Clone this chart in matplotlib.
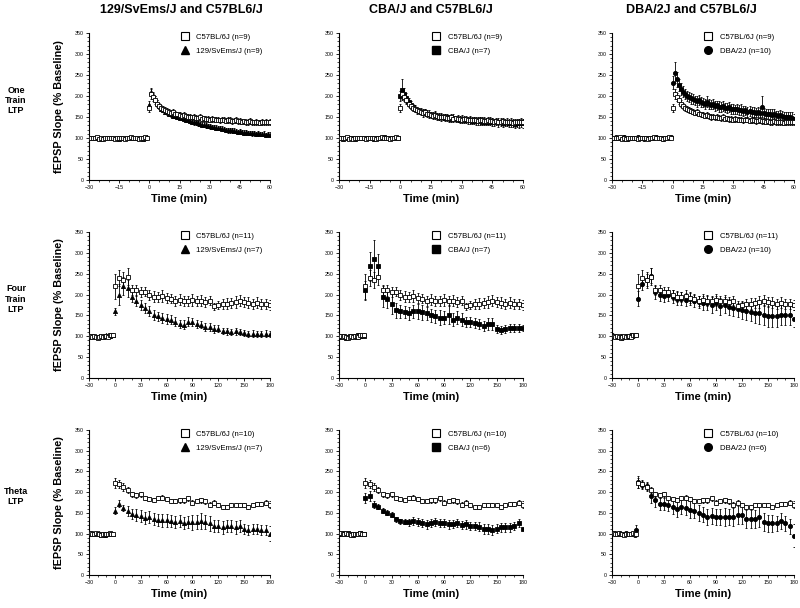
"""Strain comparison of LTP time courses (one train, four train, theta) against C57BL/6J."""
import matplotlib
matplotlib.use("Agg")
import matplotlib.pyplot as plt
import numpy as np
from matplotlib.lines import Line2D
from matplotlib.ticker import MultipleLocator

plt.rcParams["font.family"] = ["Liberation Sans", "DejaVu Sans"]

# ---- time grids -------------------------------------------------------------
t_r1_base = np.arange(-30, 0, 1)          # 60-min experiments: 1-min bins
t_r1_post = np.arange(0, 61, 1)
t_r23_base = np.arange(-30, 0, 2)         # 180-min experiments
t_r23_post = np.arange(0, 181, 5)

# ---- row 1: one train LTP ---------------------------------------------------
c57_r1_base = [100, 101, 99, 100, 102, 98, 100, 97, 99, 101, 100, 99, 101, 98, 100,
               99, 101, 100, 98, 100, 99, 102, 101, 100, 99, 98, 101, 100, 102, 101]
c57_r1_base_err = [3, 2, 3, 3, 2, 3, 3, 2, 3, 3, 2, 3, 3, 3, 2,
                   3, 3, 2, 3, 3, 2, 3, 3, 3, 2, 3, 3, 2, 3, 3]
c57_r1_post = [172, 205, 198, 190, 182, 176, 172, 170, 167, 165,
               163, 160, 162, 158, 157, 155, 153, 155, 152, 150,
               151, 149, 150, 148, 147, 149, 146, 147, 145, 146,
               144, 146, 145, 143, 144, 142, 144, 143, 141, 142,
               143, 140, 141, 142, 140, 141, 139, 140, 138, 139,
               140, 138, 137, 139, 138, 136, 138, 137, 139, 138, 138]
c57_r1_post_err = [10, 12, 10, 9, 8, 8, 7, 7, 7, 6,
                   6, 6, 7, 6, 6, 6, 6, 7, 6, 6,
                   6, 6, 7, 6, 6, 7, 6, 6, 6, 7,
                   6, 7, 6, 6, 7, 6, 7, 6, 6, 7,
                   7, 6, 6, 7, 6, 7, 6, 6, 6, 7,
                   7, 6, 6, 7, 6, 6, 7, 6, 7, 6, 7]

sv_r1_base = [101, 100, 99, 101, 100, 99, 98, 100, 101, 100, 99, 100, 101, 99, 100,
              98, 100, 101, 100, 99, 101, 100, 99, 100, 101, 100, 99, 98, 100, 102]
sv_r1_base_err = [2, 3, 3, 2, 3, 3, 2, 3, 3, 2, 3, 3, 2, 3, 3,
                  3, 2, 3, 3, 2, 3, 3, 2, 3, 3, 2, 3, 3, 2, 3]
sv_r1_post = [178, 210, 202, 192, 183, 176, 170, 167, 163, 161,
              158, 156, 153, 152, 150, 148, 147, 145, 143, 142,
              140, 139, 137, 137, 135, 134, 132, 132, 130, 129,
              128, 127, 127, 125, 124, 123, 122, 122, 120, 119,
              118, 118, 117, 116, 115, 116, 114, 113, 114, 112,
              112, 111, 112, 110, 111, 110, 109, 110, 108, 109, 108]
sv_r1_post_err = [10, 8, 8, 7, 7, 6, 6, 6, 6, 6,
                  6, 5, 6, 5, 5, 6, 5, 5, 6, 5,
                  5, 6, 5, 5, 6, 5, 5, 6, 5, 5,
                  6, 5, 5, 6, 5, 5, 6, 5, 5, 6,
                  5, 5, 6, 5, 5, 6, 5, 5, 6, 5,
                  5, 6, 5, 5, 6, 5, 5, 6, 5, 5, 6]

cba_r1_base = [99, 100, 98, 101, 100, 99, 100, 101, 98, 100, 101, 99, 100, 100, 99,
               101, 100, 98, 100, 101, 99, 100, 102, 100, 99, 101, 100, 99, 101, 100]
cba_r1_base_err = [3, 3, 2, 3, 3, 2, 3, 3, 3, 2, 3, 3, 2, 3, 3,
                   2, 3, 3, 3, 2, 3, 3, 2, 3, 3, 2, 3, 3, 3, 2]
cba_r1_post = [200, 215, 205, 195, 186, 178, 173, 170, 166, 164,
               163, 160, 161, 158, 157, 155, 154, 155, 152, 151,
               150, 150, 148, 149, 147, 146, 147, 145, 146, 144,
               145, 143, 144, 142, 143, 141, 142, 140, 141, 140,
               139, 141, 139, 138, 140, 138, 137, 139, 137, 138,
               136, 137, 138, 135, 137, 136, 134, 136, 135, 137, 135]
cba_r1_post_err = [12, 25, 14, 12, 10, 10, 9, 9, 8, 8,
                   8, 9, 8, 8, 9, 8, 8, 9, 8, 8,
                   9, 8, 8, 9, 8, 8, 9, 8, 9, 8,
                   9, 8, 9, 8, 9, 8, 9, 8, 9, 9,
                   8, 9, 9, 8, 9, 9, 8, 9, 10, 9,
                   10, 9, 10, 9, 10, 10, 9, 10, 10, 11, 10]

dba_r1_base = [101, 100, 102, 99, 100, 101, 103, 98, 97, 100, 101, 99, 100, 102, 99,
               100, 98, 100, 101, 99, 100, 100, 103, 101, 99, 98, 100, 99, 101, 102]
dba_r1_base_err = [3, 2, 3, 3, 3, 2, 3, 3, 2, 3, 3, 3, 2, 3, 3,
                   2, 3, 3, 3, 2, 3, 3, 3, 2, 3, 3, 2, 3, 3, 3]
dba_r1_post = [232, 255, 240, 226, 216, 210, 205, 201, 198, 195,
               192, 190, 188, 190, 185, 184, 182, 186, 181, 179,
               180, 177, 178, 175, 174, 176, 172, 171, 173, 169,
               170, 168, 169, 166, 167, 165, 166, 163, 164, 162,
               163, 160, 161, 159, 175, 160, 158, 157, 158, 155,
               156, 154, 153, 155, 152, 151, 150, 149, 151, 148, 146]
dba_r1_post_err = [15, 25, 18, 15, 14, 13, 12, 12, 12, 13,
                   12, 11, 13, 12, 12, 11, 12, 13, 12, 11,
                   12, 12, 11, 13, 12, 12, 11, 12, 12, 13,
                   12, 11, 12, 12, 13, 12, 11, 12, 12, 13,
                   12, 11, 12, 12, 25, 12, 11, 12, 12, 13,
                   12, 11, 12, 12, 13, 12, 11, 12, 12, 13, 12]

# ---- row 2: four train LTP --------------------------------------------------
c57_r2_base = [100, 101, 99, 100, 98, 97, 99, 100, 98, 101, 100, 99, 102, 104, 103]
c57_r2_base_err = [3, 3, 4, 3, 3, 3, 3, 4, 3, 3, 3, 4, 3, 4, 4]
c57_r2_post = [220, 240, 235, 243, 212, 210, 207, 207, 200, 195, 195, 197, 192, 190,
               185, 188, 185, 185, 187, 185, 185, 182, 185, 172, 175, 178, 178, 180,
               182, 185, 183, 180, 178, 180, 178, 178, 175]
c57_r2_post_err = [30, 20, 20, 20, 12, 13, 12, 11, 12, 13, 12, 14, 12, 11,
                   12, 13, 12, 12, 14, 12, 13, 12, 11, 8, 10, 12, 13, 12,
                   14, 13, 12, 13, 12, 13, 12, 12, 11]

sv_r2_base = [100, 99, 101, 100, 99, 98, 100, 101, 99, 100, 102, 101, 100, 103, 102]
sv_r2_base_err = [3, 3, 3, 4, 3, 3, 3, 3, 4, 3, 3, 3, 4, 3, 3]
sv_r2_post = [160, 200, 220, 215, 195, 185, 175, 168, 160, 152, 148, 145, 142, 140,
              135, 130, 128, 135, 135, 130, 128, 122, 122, 118, 118, 113, 112, 110,
              112, 110, 108, 105, 106, 106, 105, 106, 105]
sv_r2_post_err = [8, 25, 22, 20, 14, 13, 12, 12, 12, 12, 11, 12, 12, 11,
                  11, 10, 10, 11, 10, 10, 9, 9, 9, 9, 8, 8, 8, 8,
                  8, 8, 8, 7, 8, 7, 7, 8, 7]

cba_r2_base = [99, 100, 101, 98, 97, 99, 100, 98, 100, 101, 99, 102, 100, 103, 101]
cba_r2_base_err = [3, 4, 3, 3, 3, 4, 3, 3, 3, 3, 4, 3, 3, 4, 3]
cba_r2_post = [210, 268, 285, 268, 195, 190, 178, 162, 160, 158, 155, 160, 160, 158,
               155, 150, 148, 145, 145, 152, 140, 145, 140, 135, 135, 133, 130, 125,
               130, 130, 118, 115, 118, 120, 120, 120, 120]
cba_r2_post_err = [22, 35, 45, 30, 25, 22, 25, 18, 15, 15, 15, 15, 18, 18,
                   15, 15, 15, 18, 15, 22, 15, 15, 15, 12, 12, 12, 12, 12,
                   15, 15, 10, 10, 10, 10, 10, 10, 8]

dba_r2_base = [102, 101, 100, 99, 98, 100, 97, 99, 100, 98, 101, 103, 100, 104, 102]
dba_r2_base_err = [3, 3, 4, 3, 3, 3, 4, 3, 3, 3, 3, 4, 3, 3, 4]
dba_r2_post = [190, 225, 235, 245, 205, 200, 197, 198, 195, 190, 190, 188, 190, 185,
               182, 180, 180, 175, 180, 172, 175, 170, 168, 165, 162, 160, 158, 155,
               155, 150, 148, 148, 148, 150, 152, 150, 142]
dba_r2_post_err = [18, 15, 15, 18, 15, 16, 15, 14, 15, 16, 15, 15, 16, 15,
                   15, 16, 18, 18, 17, 20, 18, 20, 20, 19, 20, 21, 22, 22,
                   25, 24, 25, 26, 25, 24, 25, 22, 20]

# ---- row 3: theta LTP -------------------------------------------------------
c57_r3_base = [101, 102, 100, 99, 101, 100, 98, 97, 99, 98, 100, 99, 101, 98, 100]
c57_r3_base_err = [3, 4, 3, 3, 3, 4, 3, 3, 4, 3, 3, 3, 4, 3, 3]
c57_r3_post = [222, 220, 212, 205, 195, 192, 195, 185, 183, 182, 185, 187, 183, 178,
               178, 180, 180, 185, 175, 178, 180, 178, 170, 175, 168, 165, 165, 170,
               170, 168, 168, 165, 170, 172, 172, 175, 170]
c57_r3_post_err = [12, 10, 10, 8, 6, 6, 6, 5, 5, 5, 5, 5, 5, 5,
                   5, 5, 5, 6, 5, 5, 5, 6, 6, 5, 5, 5, 5, 5,
                   5, 5, 5, 5, 5, 5, 5, 6, 8]

sv_r3_base = [100, 101, 99, 100, 98, 99, 101, 97, 98, 96, 99, 100, 98, 100, 99]
sv_r3_base_err = [4, 3, 4, 3, 4, 3, 4, 3, 4, 4, 3, 4, 3, 4, 3]
sv_r3_post = [155, 172, 162, 155, 148, 145, 142, 138, 140, 135, 133, 132, 132, 130,
              128, 130, 125, 128, 127, 128, 130, 128, 125, 118, 118, 115, 118, 118,
              115, 118, 112, 108, 112, 110, 108, 108, 100]
sv_r3_post_err = [8, 8, 8, 12, 12, 14, 15, 15, 15, 15, 15, 15, 15, 15,
                  15, 15, 15, 15, 18, 18, 20, 18, 18, 15, 15, 15, 15, 15,
                  15, 15, 12, 12, 12, 12, 12, 12, 18]

cba_r3_base = [100, 99, 101, 100, 99, 101, 100, 99, 96, 98, 100, 99, 101, 100, 99]
cba_r3_base_err = [4, 4, 3, 4, 4, 3, 4, 4, 3, 4, 4, 3, 4, 4, 3]
cba_r3_post = [185, 190, 170, 165, 155, 150, 145, 135, 130, 128, 127, 130, 128, 125,
               122, 125, 128, 125, 125, 122, 123, 125, 120, 122, 118, 118, 117, 110,
               112, 108, 112, 115, 115, 115, 118, 125, 110]
cba_r3_post_err = [12, 12, 8, 6, 6, 6, 6, 6, 6, 6, 8, 10, 10, 10,
                   10, 10, 10, 10, 10, 10, 10, 10, 10, 10, 10, 10, 10, 12,
                   12, 12, 10, 10, 10, 10, 10, 10, 0]

dba_r3_base = [102, 101, 100, 99, 101, 98, 100, 99, 101, 100, 98, 99, 100, 97, 108]
dba_r3_base_err = [4, 3, 4, 5, 4, 5, 4, 5, 4, 4, 5, 4, 5, 4, 12]
dba_r3_post = [225, 218, 215, 190, 180, 172, 172, 170, 165, 160, 165, 162, 158, 155,
               150, 145, 140, 142, 140, 140, 140, 140, 140, 145, 145, 135, 135, 135,
               140, 128, 125, 125, 125, 130, 125, 118, 95]
dba_r3_post_err = [15, 10, 10, 15, 15, 15, 15, 15, 18, 20, 18, 18, 20, 18,
                   20, 18, 20, 20, 20, 20, 22, 20, 22, 22, 22, 22, 22, 22,
                   25, 22, 20, 20, 18, 20, 18, 18, 28]

# ---- labels -----------------------------------------------------------------
col_titles = ["129/SvEms/J and C57BL6/J", "CBA/J and C57BL6/J", "DBA/2J and C57BL6/J"]
row_labels = ["One\nTrain\nLTP", "Four\nTrain\nLTP", "Theta\nLTP"]
strain_names = ["129/SvEms/J", "CBA/J", "DBA/2J"]
strain_markers = ["^", "s", "o"]
c57_n = [9, 11, 10]
strain_n = [[9, 7, 10], [7, 7, 10], [7, 6, 6]]

rows = [
    (t_r1_base, t_r1_post,
     (c57_r1_base, c57_r1_base_err, c57_r1_post, c57_r1_post_err),
     [(sv_r1_base, sv_r1_base_err, sv_r1_post, sv_r1_post_err),
      (cba_r1_base, cba_r1_base_err, cba_r1_post, cba_r1_post_err),
      (dba_r1_base, dba_r1_base_err, dba_r1_post, dba_r1_post_err)]),
    (t_r23_base, t_r23_post,
     (c57_r2_base, c57_r2_base_err, c57_r2_post, c57_r2_post_err),
     [(sv_r2_base, sv_r2_base_err, sv_r2_post, sv_r2_post_err),
      (cba_r2_base, cba_r2_base_err, cba_r2_post, cba_r2_post_err),
      (dba_r2_base, dba_r2_base_err, dba_r2_post, dba_r2_post_err)]),
    (t_r23_base, t_r23_post,
     (c57_r3_base, c57_r3_base_err, c57_r3_post, c57_r3_post_err),
     [(sv_r3_base, sv_r3_base_err, sv_r3_post, sv_r3_post_err),
      (cba_r3_base, cba_r3_base_err, cba_r3_post, cba_r3_post_err),
      (dba_r3_base, dba_r3_base_err, dba_r3_post, dba_r3_post_err)]),
]

# axes boxes in figure pixels (left, top, right, bottom)
W, H = 800, 608
col_x = [(89, 270), (339, 523), (612, 794)]
row_y = [(33, 180), (232, 378), (430, 575)]

fig = plt.figure(figsize=(8, 6.08), dpi=100)


def px_axes(x0, y0, x1, y1):
    return fig.add_axes([x0 / W, 1 - y1 / H, (x1 - x0) / W, (y1 - y0) / H])


eb = dict(color="k", ecolor="k", elinewidth=0.6, capsize=1.0, capthick=0.6,
          ms=3.0, mew=0.6, linestyle="none")

for r, (tb, tp, c57, strains) in enumerate(rows):
    t = np.concatenate([tb, tp])
    c57_y = np.concatenate([c57[0], c57[2]])
    c57_e = np.concatenate([c57[1], c57[3]])
    for c, s in enumerate(strains):
        ax = px_axes(col_x[c][0], row_y[r][0], col_x[c][1], row_y[r][1])
        s_y = np.concatenate([s[0], s[2]])
        s_e = np.concatenate([s[1], s[3]])
        ax.errorbar(t, s_y, yerr=s_e, fmt=strain_markers[c], mfc="k", mec="k", zorder=2, **eb)
        ax.errorbar(t, c57_y, yerr=c57_e, fmt="s", mfc="white", mec="k", zorder=3, **eb)

        if r == 0:
            ax.set_xlim(-30, 60)
            ax.xaxis.set_major_locator(MultipleLocator(15))
            ax.xaxis.set_minor_locator(MultipleLocator(5))
        else:
            ax.set_xlim(-30, 180)
            ax.xaxis.set_major_locator(MultipleLocator(30))
            ax.xaxis.set_minor_locator(MultipleLocator(10))
        ax.set_ylim(0, 350)
        ax.yaxis.set_major_locator(MultipleLocator(50))
        ax.yaxis.set_minor_locator(MultipleLocator(10))
        for sp in ["top", "right"]:
            ax.spines[sp].set_visible(False)
        for sp in ["left", "bottom"]:
            ax.spines[sp].set_linewidth(0.8)
        ax.tick_params(which="major", length=2.2, width=0.6, labelsize=3.8, pad=1.5)
        ax.tick_params(which="minor", length=1.2, width=0.5)

        handles = [Line2D([], [], marker="s", ls="none", mfc="white", mec="k", ms=5.5, mew=0.8),
                   Line2D([], [], marker=strain_markers[c], ls="none", mfc="k", mec="k", ms=5.5)]
        labels = ["C57BL/6J (n=%d)" % c57_n[r],
                  "%s (n=%d)" % (strain_names[c], strain_n[r][c])]
        ax.legend(handles, labels, loc="upper left", bbox_to_anchor=(0.49, 1.02),
                  frameon=False, fontsize=5.6, handlelength=1.0, handletextpad=1.0,
                  labelspacing=0.9, borderaxespad=0.0)

        # x label under every panel
        xc = (col_x[c][0] + col_x[c][1]) / 2
        fig.text(xc / W, 1 - (row_y[r][1] + 19) / H, "Time (min)", ha="center",
                 va="center", fontsize=8, fontweight="bold")

    # y label and row label on the left column only
    yc = (row_y[r][0] + row_y[r][1]) / 2
    fig.text(59 / W, 1 - yc / H, "fEPSP Slope (% Baseline)", rotation=90,
             ha="center", va="center", fontsize=7.8, fontweight="bold")
    fig.text(16 / W, 1 - (yc - 6) / H, row_labels[r], ha="center", va="center",
             fontsize=6.5, fontweight="bold", linespacing=1.15)

title_x = [181, 431, 691]
for c, title in enumerate(col_titles):
    fig.text(title_x[c] / W, 1 - 10 / H, title, ha="center", va="center",
             fontsize=9, fontweight="bold")

fig.savefig("out.png", dpi=100)
